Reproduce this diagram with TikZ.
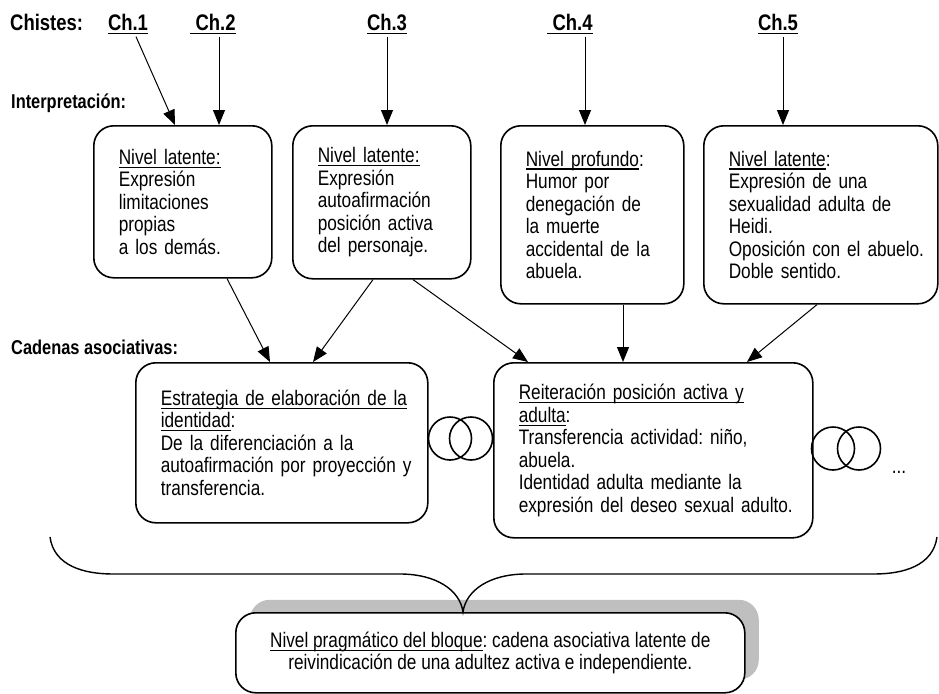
\documentclass[tikz,border=0pt]{standalone}
\usepackage{fontspec}
\setmainfont{Liberation Sans}[FakeStretch=0.82]
\usetikzlibrary{arrows.meta, positioning, calc, shadows}
\newcommand{\ulin}[1]{\leavevmode\setbox0\hbox{#1}\rlap{\rule[-3.5pt]{\wd0}{1.1pt}}\box0}

\begin{document}
\begin{tikzpicture}[x=1pt, y=-1pt, font=\fontsize{21}{22.5}\selectfont\frenchspacing]
    % Styles
    \tikzstyle{box} = [rectangle, draw, line width=1.6pt, rounded corners=20pt, anchor=north west, align=left, inner xsep=10pt, inner ysep=0pt, execute at begin node={\leftskip=15pt}]
    \tikzstyle{pragbox} = [rectangle, draw, fill=white, line width=1.6pt, rounded corners=20pt, anchor=north west, align=center, inner sep=0pt, drop shadow={shadow xshift=14pt, shadow yshift=13pt, fill=black!25, opacity=1}]
    \tikzstyle{link} = [draw, line width=1pt, -{Triangle[length=15pt, width=12pt]}]
    \tikzstyle{head} = [font=\fontsize{20}{24}\selectfont\bfseries, inner sep=2pt]
    \tikzstyle{chlabel} = [font=\fontsize{22.5}{24}\selectfont\bfseries, inner sep=2pt, anchor=base]
    \tikzstyle{ring} = [circle, draw, line width=1.6pt, minimum size=43pt, inner sep=0pt]

    \useasboundingbox (0,0) rectangle (939,693);

    % Headings
    \node [chlabel, anchor=base west] (chistes) at (8,31) {Chistes:};
    \node [chlabel] (ch1) at (128,31) {\ulin{Ch.1}};
    \node [chlabel] (ch2) at (213,31) {\ulin{\ Ch.2}};
    \node [chlabel] (ch3) at (387,31) {\ulin{Ch.3}};
    \node [chlabel] (ch4) at (570,31) {\ulin{\ Ch.4}};
    \node [chlabel] (ch5) at (778,31) {\ulin{Ch.5}};
    \node [head, anchor=west] (interp) at (9,103) {Interpretación:};
    \node [head, anchor=west] (cadenas) at (9,347) {Cadenas asociativas:};

    % Interpretation boxes
    \node [box, text width=158pt, minimum height=152pt] (b1) at (93,125)
        {\ulin{Nivel latente:}\\ Expresión\\ limitaciones\\ propias\\ a los demás.};
    \node [box, text width=158pt, minimum height=153pt] (b2) at (292,125)
        {\ulin{Nivel latente:}\\ Expresión\\ autoafirmación\\ posición activa\\ del personaje.};
    \node [box, text width=163pt, minimum height=178pt] (b3) at (500,125)
        {\ulin{Nivel profundo}:\\ Humor por\\ denegación de\\ la muerte\\ accidental de la\\ abuela.};
    \node [box, text width=214pt, minimum height=178pt] (b4) at (703,125)
        {\ulin{Nivel latente}:\\ Expresión de una\\ sexualidad adulta de\\ Heidi.\\ Oposición con el abuelo.\\ Doble sentido.};

    % Associative chains
    \node [box, text width=272pt, minimum height=160pt] (b5) at (135,362)
        {\ulin{Estrategia de elaboración de la}\\ \ulin{identidad}:\\ De la diferenciación a la\\ autoafirmación por proyección y\\ transferencia.};
    \node [box, text width=299pt, minimum height=175pt] (b6) at (493,362)
        {\ulin{Reiteración posición activa y}\\ \ulin{adulta}:\\ Transferencia actividad: niño,\\ abuela.\\ Identidad adulta mediante la\\ expresión del deseo sexual adulto.};

    \node [ring] (r1) at (450,438.5) {};
    \node [ring] (r2) at (471,438.5) {};
    \node [ring] (r3) at (833,448.5) {};
    \node [ring] (r4) at (859,448.5) {};
    \node [anchor=base, inner sep=0pt] (more) at (899,473) {...};

    % Pragmatic level
    \node [pragbox, minimum width=509pt, minimum height=80pt] (prag) at (235,612)
        {\ulin{Nivel pragmático del bloque}: cadena asociativa latente de\\ reivindicación de una adultez activa e independiente.};

    % Edges
    \path [link] ([xshift=8pt]ch1.south) -- ($(b1.north west)+(82,0)$);
    \path [link] ([xshift=6pt]ch2.south) -- ([xshift=6pt]ch2.south |- b1.north);
    \path [link] (ch3.south) -- (ch3.south |- b2.north);
    \path [link] ([xshift=15pt]ch4.south) -- ([xshift=15pt]ch4.south |- b3.north);
    \path [link] ([xshift=5pt]ch5.south) -- ([xshift=5pt]ch5.south |- b4.north);

    \path [link] ($(b1.south west)+(134,0)$) -- ($(b5.north west)+(135,0)$);
    \path [link] ($(b2.south west)+(81,0)$) -- ($(b5.north west)+(178,0)$);
    \path [link] ($(b2.south west)+(121,0)$) -- ($(b6.north west)+(35,0)$);
    \path [link] ($(b3.south west)+(123,0)$) coordinate (d3) -- (d3 |- b6.north);
    \path [link] ($(b4.south west)+(114,0)$) -- ($(b6.north west)+(254,0)$);

    % Brace
    \coordinate (tip) at ($(prag.north west)+(228,0)$);
    \draw [line width=1.4pt] (50,537) .. controls (54,566) and (84,574) .. (113,574) -- (400,574)
        .. controls (436,574) and (460,590) .. (tip)
        .. controls (466,590) and (490,574) .. (526,574) -- (874,574)
        .. controls (903,574) and (933,566) .. (937,537);

\end{tikzpicture}
\end{document}
